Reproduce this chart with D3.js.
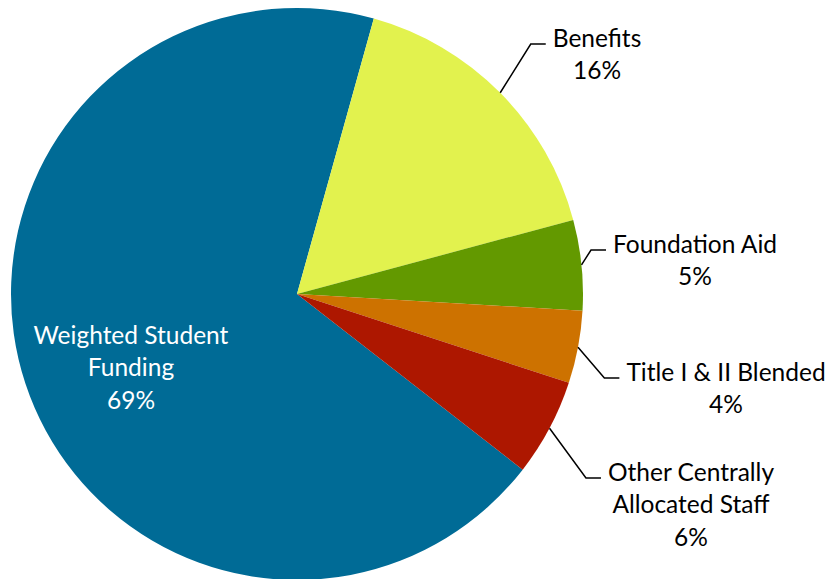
<!DOCTYPE html>
<html>
<head>
<meta charset="utf-8">
<script src="https://cdn.jsdelivr.net/npm/d3@7"></script>
<style>
  body { margin: 0; background: #fff; }
  text { font-family: Lato, "Open Sans", sans-serif; font-size: 24.5px; }
</style>
</head>
<body>
<div id="chart"></div>
<script>
// --------------------------------------
//  Data
// --------------------------------------

const categories = ["Weighted Student Funding", "Benefits", "Foundation Aid", "Title I & II Blended", "Other Centrally Allocated Staff"];
const shares = [68.8, 16.5, 5.1, 4.1, 5.5];
const labelLines = [
  ["Weighted Student", "Funding", "69%"],
  ["Benefits", "16%"],
  ["Foundation Aid", "5%"],
  ["Title I & II Blended", "4%"],
  ["Other Centrally", "Allocated Staff", "6%"]
];
const colors = ["#006B96", "#E2F24E", "#639900", "#CD7200", "#AD1700"];

// --------------------------------------
//  Canvas
// --------------------------------------

const width = 828;
const height = 579;
const cx = 297, cy = 294, radius = 286;
const lineH = 32.5;

// label centre of first line (layout only)
const labelPos = [
  { x: 131, y: 335, inside: true },
  { x: 597, y: 38 },
  { x: 695, y: 244 },
  { x: 726, y: 372 },
  { x: 691, y: 472 }
];

const svg = d3.select("#chart")
  .append("svg")
  .attr("width", width)
  .attr("height", height);

const g = svg.append("g").attr("transform", `translate(${cx},${cy})`);

const start = 127.9 * Math.PI / 180;
const pie = d3.pie().sort(null).startAngle(start).endAngle(start + 2 * Math.PI);
const arcs = pie(shares);
const arc = d3.arc().innerRadius(0).outerRadius(radius);

g.selectAll("path.slice")
  .data(arcs)
  .join("path")
  .attr("class", "slice")
  .attr("d", arc)
  .attr("fill", (d, i) => colors[i]);

// --------------------------------------
//  Labels
// --------------------------------------

const labels = svg.selectAll("text.label")
  .data(arcs)
  .join("text")
  .attr("class", "label")
  .attr("text-anchor", "middle")
  .attr("fill", (d, i) => labelPos[i].inside ? "#fff" : "#000");

labels.each(function(d, i) {
  const t = d3.select(this);
  labelLines[i].forEach((s, k) => {
    t.append("tspan")
      .attr("x", labelPos[i].x)
      .attr("y", labelPos[i].y + k * lineH)
      .attr("dy", "0.35em")
      .text(s);
  });
});

// leader lines
labels.each(function(d, i) {
  if (labelPos[i].inside) return;
  let w = 0;
  d3.select(this).selectAll("tspan").each(function() {
    w = Math.max(w, this.getComputedTextLength());
  });
  const left = labelPos[i].x - w / 2;
  const mid = (d.startAngle + d.endAngle) / 2;
  const sx = cx + radius * Math.sin(mid);
  const sy = cy - radius * Math.cos(mid);
  const ey = labelPos[i].y + 6;
  const ex = left - 7;
  svg.append("polyline")
    .attr("points", [[sx, sy], [ex - 15, ey], [ex, ey]].map(p => p.join(",")).join(" "))
    .attr("fill", "none")
    .attr("stroke", "#000")
    .attr("stroke-width", 1.5);
});
</script>
</body>
</html>
